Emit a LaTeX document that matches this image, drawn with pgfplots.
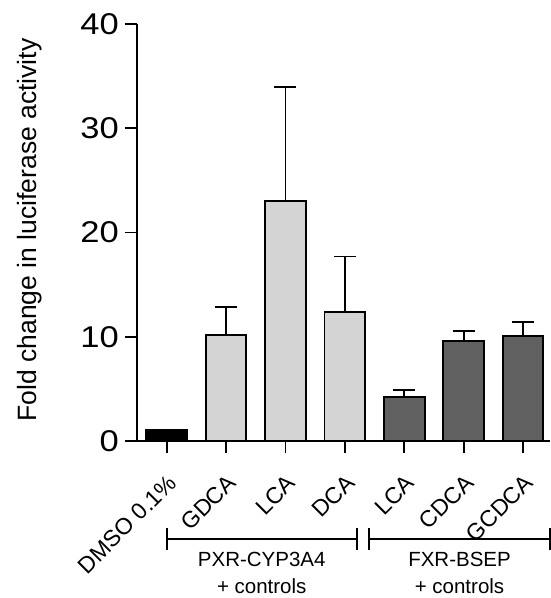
\documentclass[border=0pt]{standalone}
\usepackage{pgfplots}
\pgfplotsset{compat=1.18}
\usepackage{fontspec}
\setmainfont{Liberation Sans}
\definecolor{lightbar}{HTML}{D4D4D4}
\definecolor{darkbar}{HTML}{606060}
\newcommand\xtl{\fontsize{20.5}{20.5}\selectfont}
\newcommand\xtk{\fontsize{23}{23}\selectfont}
\newcommand\ytl[1]{\scalebox{1.15}[1]{\fontsize{30}{30}\selectfont #1}}

\begin{document}
\begin{tikzpicture}
\begin{axis}[
    scale only axis,
    width=413.4pt, height=417pt,
    xmin=-0.5, xmax=6.46,
    ymin=0, ymax=40,
    axis x line=bottom, axis y line=left,
    axis line style={-, line width=1.9pt},
    tick style={line width=1.9pt, black},
    tick align=outside,
    major tick length=12pt,
    xtick={0,1,2,3,4,5,6},
    xticklabels={{\xtk DMSO 0.1\%}, {\xtk GDCA}, {\xtk LCA}, {\xtk DCA},
                 {\xtk LCA}, {\xtk CDCA}, {\xtk GCDCA}},
    xticklabel style={xshift=0pt, yshift=-20pt, rotate=45, anchor=north east, inner sep=0pt},
    ytick={0,10,20,30,40},
    yticklabels={\ytl{0}, \ytl{10}, \ytl{20}, \ytl{30}, \ytl{40}},
    yticklabel style={inner sep=0pt, xshift=-6pt},
    ylabel={Fold change in luciferase activity},
    ylabel style={at={(axis description cs:-0.242,0.506)}, anchor=base, rotate=0,
        font=\fontsize{26.5}{26.5}\selectfont},
    clip=false,
]
\addplot[ybar, bar width=0.685, fill=black, draw=black, line width=1.9pt]
    coordinates {(0,1.05)};
\addplot[ybar, bar width=0.685, fill=lightbar, draw=black, line width=1.9pt,
    error bars/.cd, y dir=plus, y explicit,
    error bar style={line width=1.9pt, black},
    error mark options={rotate=90, mark size=11pt, line width=1.9pt, black}]
    coordinates {(1,10.17) +- (0,2.68) (2,23.0) +- (0,11.0) (3,12.35) +- (0,5.35)};
\addplot[ybar, bar width=0.685, fill=darkbar, draw=black, line width=1.9pt,
    error bars/.cd, y dir=plus, y explicit,
    error bar style={line width=1.9pt, black},
    error mark options={rotate=90, mark size=11pt, line width=1.9pt, black}]
    coordinates {(4,4.22) +- (0,0.64) (5,9.55) +- (0,1.0) (6,10.07) +- (0,1.33)};

% group brackets
\draw[line width=1.9pt] ([yshift=-98pt]axis cs:0,0) -- ([yshift=-98pt]axis cs:3.2,0);
\draw[line width=1.9pt] ([yshift=-87pt]axis cs:0,0) -- ([yshift=-109pt]axis cs:0,0);
\draw[line width=1.9pt] ([yshift=-87pt]axis cs:3.2,0) -- ([yshift=-109pt]axis cs:3.2,0);
\draw[line width=1.9pt] ([yshift=-98pt]axis cs:3.41,0) -- ([yshift=-98pt]axis cs:6.45,0);
\draw[line width=1.9pt] ([yshift=-87pt]axis cs:3.41,0) -- ([yshift=-109pt]axis cs:3.41,0);
\draw[line width=1.9pt] ([yshift=-87pt]axis cs:6.45,0) -- ([yshift=-109pt]axis cs:6.45,0);
\node[anchor=base, font=\xtl] at ([yshift=-125.7pt]axis cs:1.6,0) {PXR-CYP3A4};
\node[anchor=base, font=\xtl] at ([yshift=-152.3pt]axis cs:1.6,0) {+ controls};
\node[anchor=base, font=\xtl] at ([yshift=-125.7pt]axis cs:4.93,0) {FXR-BSEP};
\node[anchor=base, font=\xtl] at ([yshift=-152.3pt]axis cs:4.93,0) {+ controls};
\end{axis}
\pgfresetboundingbox
\path (-137pt,-157pt) rectangle (414pt,441pt);
\end{tikzpicture}
\end{document}
